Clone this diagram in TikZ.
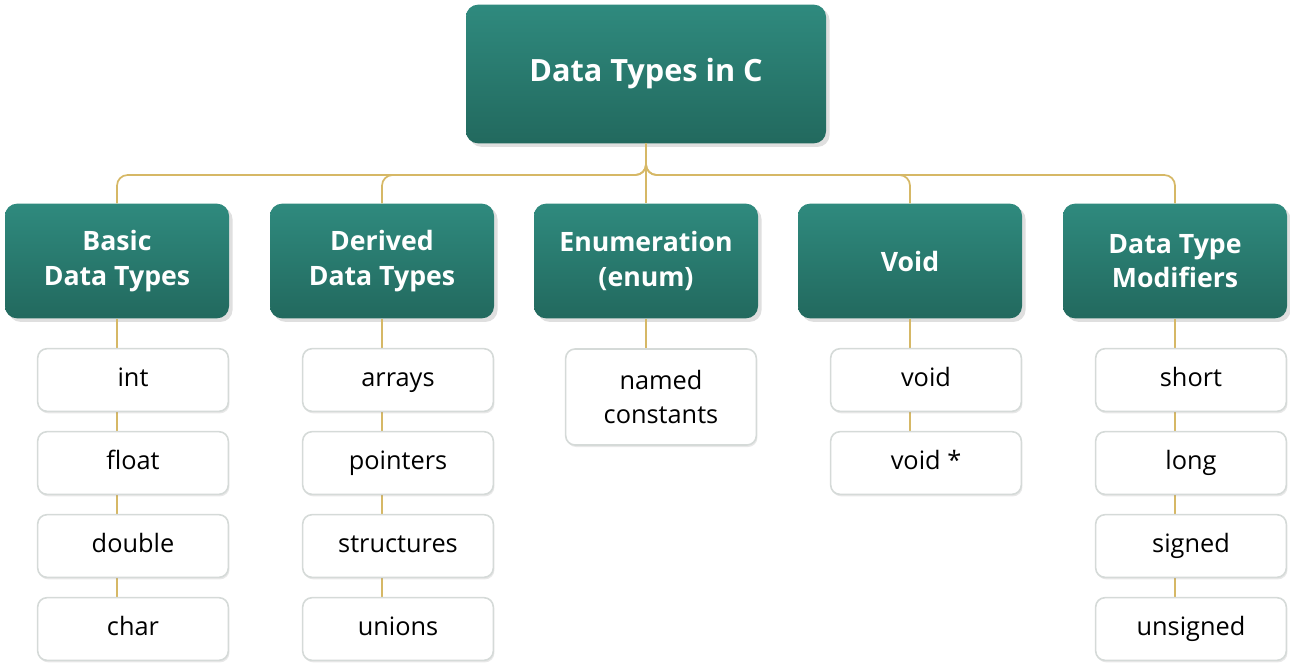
\documentclass[tikz,border=0pt]{standalone}
\usepackage{fontspec}
\setmainfont{Open Sans}
\usetikzlibrary{shadows}
\definecolor{tealtop}{HTML}{2F8A7E}
\definecolor{tealbot}{HTML}{22695E}
\definecolor{goldline}{HTML}{D6B866}
\definecolor{leafedge}{HTML}{D5DAD8}
\tikzset{
  cat/.style={rounded corners=9pt, top color=tealtop, bottom color=tealbot, draw=none,
    text=white, align=center, font=\fontsize{20}{26}\selectfont\bfseries,
    minimum width=168pt, minimum height=86pt, drop shadow={opacity=0.25}},
  root/.style={cat, minimum width=270pt, minimum height=104pt, font=\fontsize{23}{27}\selectfont\bfseries},
  leafbox/.style={rounded corners=7pt, fill=white, draw=leafedge, line width=1.2pt,
    align=center, font=\fontsize{19}{25}\selectfont, minimum width=143pt, minimum height=47pt,
    drop shadow={opacity=0.18, shadow xshift=0.8pt, shadow yshift=-1.5pt}},
  leaf/.style={leafbox, text height=14pt, text depth=4pt},
  link/.style={goldline, line width=1.3pt, rounded corners=8pt},
}
\begin{document}
\begin{tikzpicture}[x=0.75pt, y=-0.75pt]
  \useasboundingbox (0,0) rectangle (1290,665);
  % root
  \node[root] (dt) at (646,74) {Data Types in C};
  % categories
  \foreach \n/\x/\t in {basic/117/{Basic\\Data Types}, derived/382/{Derived\\Data Types},
      enum/646/{Enumeration\\(enum)}, void/910/Void, mods/1175/{Data Type\\Modifiers}}
    \node[cat] (\n) at (\x,261) {\t};
  \coordinate (bus) at (646,175);
  \foreach \n in {basic,derived,void,mods}
    \draw[link] (dt.south) -- (bus) -| (\n.north);
  \draw[link] (dt.south) -- (enum.north);
  % leaves, with the links drawn first
  \foreach \c/\x/\last/\items in {basic/117/630/{int,float,double,char},
      derived/382/630/{arrays,pointers,structures,unions},
      void/910/464/{void,void *}, mods/1175/630/{short,long,signed,unsigned}} {
    \draw[link] (\c.south) -- (\x,\last);
    \foreach \lab [count=\i] in \items
      \node[leaf] (\c-\i) at (\x+16,297+83*\i) {\lab};
  }
  \draw[link] (enum.south) -- (646,360);
  \node[leafbox, minimum height=72pt] (enum-1) at (661,397) {named\\constants};
\end{tikzpicture}
\end{document}
